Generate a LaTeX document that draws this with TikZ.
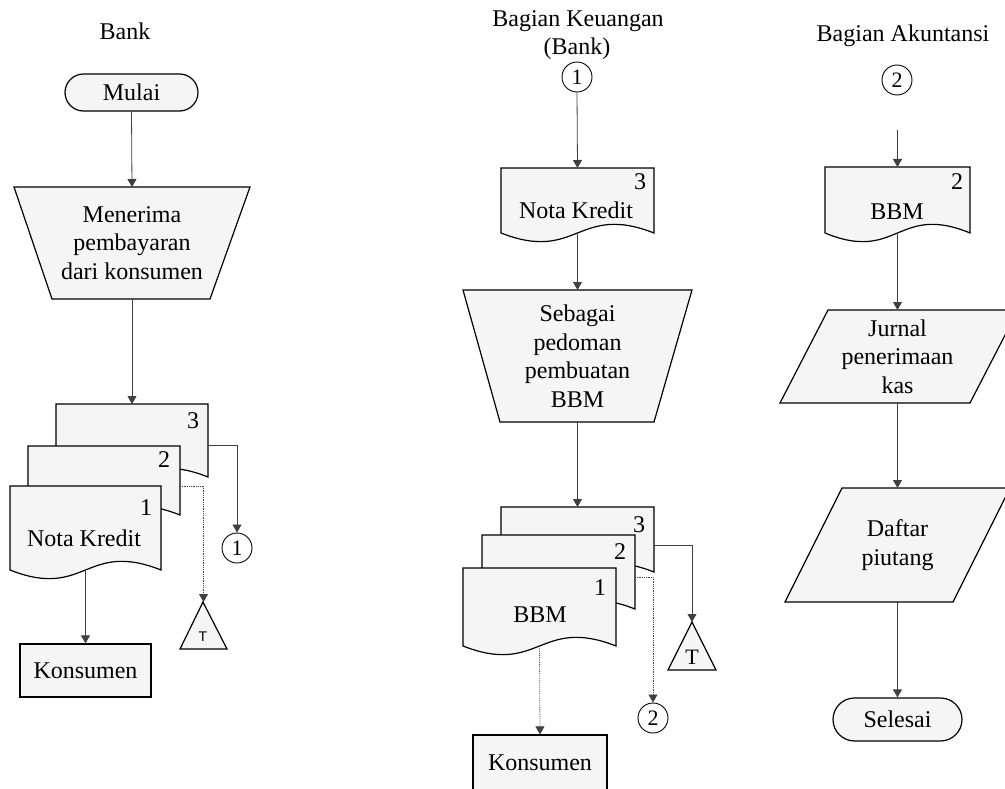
\documentclass[tikz,border=0pt]{standalone}
\usepackage{fontspec}
\setmainfont{Liberation Serif}
\setsansfont{Liberation Sans}
\usetikzlibrary{arrows.meta}
\newcommand\docpath[4]{%
  \filldraw[shp] (#1,#3) -- (#2,#3) -- (#2,#4) .. controls ({(#1+#2)/2},#4-30) and ({(#1+#2)/2},#4+30) .. (#1,#4) -- cycle;}
\begin{document}
\begin{tikzpicture}[x=1pt,y=-1pt,
  every node/.style={font=\fontsize{24}{28.5}\selectfont},
  frame/.style={draw=none,inner sep=0pt,outer sep=0pt,align=center},
  shp/.style={draw=black,line width=1.2pt,fill=black!4},
  conn/.style={draw=black!75,line width=0.8pt},
  arr/.style={conn,-{Triangle[length=8pt,width=9pt]}},
  faint/.style={densely dotted},
  term/.style={shp,rectangle,inner sep=0pt},
  boxnode/.style={shp,rectangle,inner sep=0pt},
  circ/.style={circle,draw=black,line width=0.9pt,fill=white,inner sep=0pt,minimum size=30pt,font=\fontsize{22}{24}\selectfont},
  lbl/.style={inner sep=0pt}
]
\useasboundingbox (0,0) rectangle (1005,789);

% ---------------- Bank ----------------
\node[anchor=base] (hBank) at (125,40) {Bank};
\node[term,minimum width=133pt,minimum height=37pt,rounded corners=18.5pt] (mulai) at (131.5,92.5) {Mulai};

\filldraw[shp] (14,187) -- (250,187) -- (210,299) -- (52,299) -- cycle;
\node[frame,minimum width=236pt,minimum height=112pt] (trap1) at (132,243) {Menerima\\pembayaran\\dari konsumen};

\docpath{56}{208}{404}{477}
\docpath{28}{180}{446}{515}
\docpath{10}{161}{486}{570}
\node[frame,minimum width=152pt,minimum height=73pt] (L3) at (132,440.5) {};
\node[frame,minimum width=152pt,minimum height=69pt] (L2) at (104,480.5) {};
\node[frame,minimum width=151pt,minimum height=84pt] (L1) at (85.5,528) {};
\node[lbl] (L3n) at (193,421) {3};
\node[lbl] (L2n) at (164,460) {2};
\node[lbl] (L1n) at (146,508) {1};
\node[lbl] (L1t) at (84,538) {Nota Kredit};

\node[circ] (c1) at (237,548) {1};
\filldraw[shp] (203,602) -- (227,649) -- (180,649) -- cycle;
\node[frame,minimum width=47pt,minimum height=47pt] (T1) at (203.5,625.5) {};
\node[lbl,font=\sffamily\fontsize{14}{16}\selectfont] (T1t) at (203,637) {T};

\node[boxnode,minimum width=131pt,minimum height=53pt] (K1) at (85.5,670.5) {Konsumen};

\draw[arr] (mulai.south) -- (trap1.north);
\draw[arr] (trap1.south) -- (L3.north);
\draw[arr] ([yshift=-4.5pt]L3.east) -| (c1.north);
\draw[arr,faint] ([yshift=-5.5pt]L2.east) -| (T1.north);
\draw[arr] (L1.south) -- (K1.north);

% ---------------- Bagian Keuangan ----------------
\node[anchor=base] (hKeu) at (578,27) {Bagian Keuangan};
\node[anchor=base] (hKeu2) at (577,55) {(Bank)};
\node[circ] (m1) at (577,77) {1};

\docpath{501}{654}{168}{233}
\node[frame,minimum width=153pt,minimum height=65pt] (N1) at (577.5,200.5) {};
\node[lbl] (N1n) at (640,182) {3};
\node[lbl] (N1t) at (576,210) {Nota Kredit};

\filldraw[shp] (463,290) -- (692,290) -- (654,422) -- (500,422) -- cycle;
\node[frame,minimum width=229pt,minimum height=132pt] (trap2) at (577.5,356) {Sebagai\\pedoman\\pembuatan\\BBM};

\docpath{501}{654}{507}{572}
\docpath{482}{635}{535}{609}
\docpath{463}{616}{568}{646}
\node[frame,minimum width=153pt,minimum height=65pt] (M3) at (577.5,539.5) {};
\node[frame,minimum width=153pt,minimum height=74pt] (M2) at (558.5,572) {};
\node[frame,minimum width=153pt,minimum height=78pt] (M1) at (539.5,607) {};
\node[lbl] (M3n) at (639,525) {3};
\node[lbl] (M2n) at (620,552) {2};
\node[lbl] (M1n) at (600,588) {1};
\node[lbl] (M1t) at (540,615) {BBM};

\filldraw[shp] (692,622) -- (716,670) -- (668,670) -- cycle;
\node[frame,minimum width=48pt,minimum height=48pt] (T2) at (692,646) {};
\node[lbl,font=\fontsize{22}{24}\selectfont] (T2t) at (692,657) {T};

\node[circ] (c2m) at (653,718) {2};
\node[boxnode,minimum width=134pt,minimum height=55pt] (K2) at (540,762.5) {Konsumen};

\draw[arr] (m1.south) -- (N1.north);
\draw[arr] (N1.south) -- (trap2.north);
\draw[arr] (trap2.south) -- (M3.north);
\draw[arr] ([yshift=-5.5pt]M3.east) -| (T2.north);
\draw[arr,faint] ([yshift=-5pt]M2.east) -| (c2m.north);
\draw[arr,faint] (M1.south) -- (K2.north);

% ---------------- Bagian Akuntansi ----------------
\node[anchor=base] (hAk) at (903,42) {Bagian Akuntansi};
\node[circ] (r2) at (897,80) {2};
\coordinate (rin) at (897.5,130);

\docpath{825}{970}{167}{233}
\node[frame,minimum width=145pt,minimum height=66pt] (RB) at (897.5,200) {};
\node[lbl] (RBn) at (957,182) {2};
\node[lbl] (RBt) at (897,212) {BBM};

\filldraw[shp] (828,310) -- (1018,310) -- (970,403) -- (780,403) -- cycle;
\node[frame,minimum width=190pt,minimum height=93pt] (P1) at (897.5,356.5) {Jurnal\\penerimaan\\kas};

\filldraw[shp] (842,488) -- (1010,488) -- (953,602) -- (785,602) -- cycle;
\node[frame,minimum width=168pt,minimum height=114pt] (P2) at (897.5,545) {Daftar\\piutang};

\node[term,minimum width=129pt,minimum height=43pt,rounded corners=21.5pt] (sel) at (897.5,719.5) {Selesai};

\draw[arr] (rin) -- (RB.north);
\draw[arr] (RB.south) -- (P1.north);
\draw[arr] (P1.south) -- (P2.north);
\draw[arr] (P2.south) -- (sel.north);
\end{tikzpicture}
\end{document}
